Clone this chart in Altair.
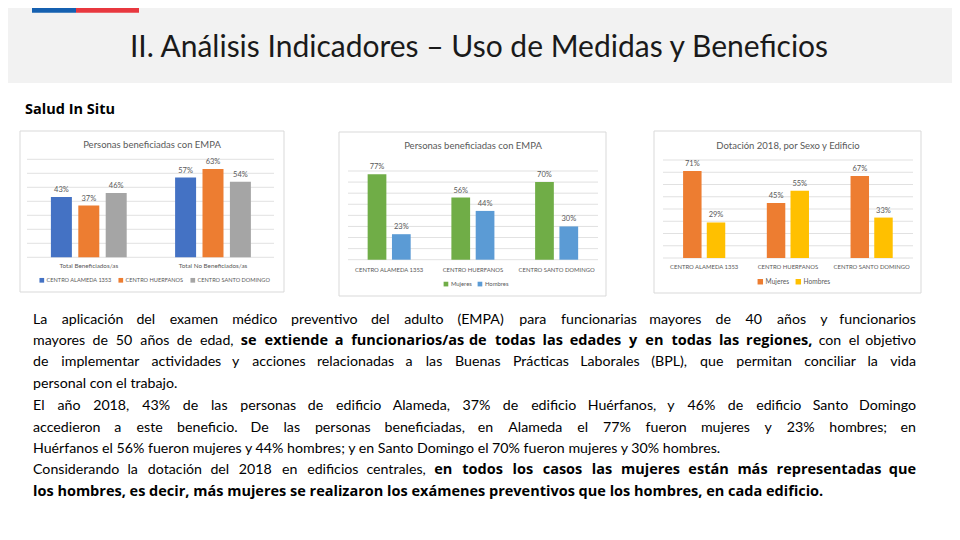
import unicodedata
import altair as alt
import pandas as pd

# ---------------- data ----------------
grupos1 = ["Total Beneficiados/as", "Total No Beneficiados/as"]
centros = ["CENTRO ALAMEDA 1353", "CENTRO HUERFANOS", "CENTRO SANTO DOMINGO"]
alameda1 = [43, 57]
huerfanos1 = [37, 63]
santo1 = [46, 54]

sexos = ["Mujeres", "Hombres"]
empa_mujeres = [77, 56, 70]
empa_hombres = [23, 44, 30]
dot_mujeres = [71, 45, 67]
dot_hombres = [29, 55, 33]

ticks70 = [0, 10, 20, 30, 40, 50, 60, 70]
ticks80 = [0, 10, 20, 30, 40, 50, 60, 70, 80]

titulo = "II. Análisis Indicadores – Uso de Medidas y Beneficios"
subtitulo = "Salud In Situ"
t1 = "Personas beneficiadas con EMPA"
t2 = "Personas beneficiadas con EMPA"
t3 = "Dotación 2018, por Sexo y Edificio"

parrafo = [
    (True, [(False, "La aplicación del examen médico preventivo del adulto (EMPA) para funcionarias mayores de 40 años y funcionarios")]),
    (True, [(False, "mayores de 50 años de edad,"),
            (True, "se extiende a funcionarios/as de todas las edades y en todas las regiones,"),
            (False, "con el objetivo")]),
    (True, [(False, "de implementar actividades y acciones relacionadas a las Buenas Prácticas Laborales (BPL), que permitan conciliar la vida")]),
    (False, [(False, "personal con el trabajo.")]),
    (True, [(False, "El año 2018, 43% de las personas de edificio Alameda, 37% de edificio Huérfanos, y 46% de edificio Santo Domingo")]),
    (True, [(False, "accedieron a este beneficio. De las personas beneficiadas, en Alameda el 77% fueron mujeres y 23% hombres; en")]),
    (False, [(False, "Huérfanos el 56% fueron mujeres y 44% hombres; y en Santo Domingo el 70% fueron mujeres y 30% hombres.")]),
    (True, [(False, "Considerando la dotación del 2018 en edificios centrales,"),
            (True, "en todos los casos las mujeres están más representadas que")]),
    (False, [(True, "los hombres, es decir, más mujeres se realizaron los exámenes preventivos que los hombres, en cada edificio.")]),
]

# ---------------- layout helpers ----------------
FONT = "Lato"
BFONT = "Open Sans"
W, H = 944, 524
OX, OY = 8, 8


def X(v):
    return v - OX


def Y(v):
    return v - OY


def rect(x0, x1, y0, y1, fill, stroke=None):
    kw = dict(color=fill)
    if stroke:
        kw = dict(fill=fill, stroke=stroke, strokeWidth=1)
    return alt.Chart(pd.DataFrame({"a": [0]})).mark_rect(**kw).encode(
        x=alt.value(X(x0)), x2=alt.value(X(x1)), y=alt.value(Y(y0)), y2=alt.value(Y(y1))
    )


def label(txt, x, y, size, color="#000000", bold=False, align="left", baseline="alphabetic", font=FONT):
    return alt.Chart(pd.DataFrame({"t": [txt]})).mark_text(
        font=font, fontSize=size, color=color, fontWeight="bold" if bold else "normal",
        align=align, baseline=baseline
    ).encode(x=alt.value(X(x)), y=alt.value(Y(y)), text="t:N")


def panel(df, cats, series, colors, xr, yr, ydom, ticks, gx, pi, po,
          caty, catsize, legx, legy, legsize, symsize, colpad):
    xs = alt.Scale(domain=cats, range=[X(xr[0]), X(xr[1])], paddingInner=0, paddingOuter=0)
    ys = alt.Scale(domain=ydom, range=[Y(yr[0]), Y(yr[1])], nice=False, zero=True)
    os_ = alt.Scale(domain=series, paddingInner=pi, paddingOuter=po)
    cs = alt.Scale(domain=series, range=colors)
    grid = alt.Chart(pd.DataFrame({"t": ticks})).mark_rule(color="#d9d9d9", strokeWidth=0.8).encode(
        y=alt.Y("t:Q", scale=ys, axis=None),
        x=alt.value(X(gx[0])), x2=alt.value(X(gx[1])),
    )
    base = alt.Chart(df).encode(
        x=alt.X("cat:N", scale=xs, axis=None, sort=cats),
        xOffset=alt.XOffset("ser:N", scale=os_, sort=series),
    )
    bars = base.mark_bar().encode(
        y=alt.Y("v:Q", scale=ys, axis=None),
        color=alt.Color("ser:N", scale=cs, sort=series, legend=alt.Legend(
            orient="none", legendX=X(legx), legendY=Y(legy) - legsize / 2,
            direction="horizontal", columns=len(series), title=None,
            symbolType="square", symbolSize=symsize, symbolStrokeWidth=0,
            labelFont=FONT, labelFontSize=legsize, labelColor="#595959",
            columnPadding=colpad, labelOffset=2, padding=0)),
    )
    vals = base.mark_text(font=FONT, fontSize=7.5, color="#595959", baseline="bottom", dy=-3).encode(
        y=alt.Y("v:Q", scale=ys, axis=None), text="lbl:N"
    )
    catlab = alt.Chart(pd.DataFrame({"cat": cats})).mark_text(
        font=FONT, fontSize=catsize, color="#595959", baseline="middle"
    ).encode(x=alt.X("cat:N", scale=xs, axis=None, sort=cats), y=alt.value(Y(caty)), text="cat:N")
    return alt.layer(grid, bars, vals, catlab)


def long_df(cats, series, cols):
    rows = []
    for si, s in enumerate(series):
        for ci, c in enumerate(cats):
            v = cols[si][ci]
            rows.append({"cat": c, "ser": s, "v": v, "lbl": f"{v}%"})
    return pd.DataFrame(rows)


df1 = long_df(grupos1, centros, [alameda1, huerfanos1, santo1])
df2 = long_df(centros, sexos, [empa_mujeres, empa_hombres])
df3 = long_df(centros, sexos, [dot_mujeres, dot_hombres])

p1 = panel(df1, grupos1, centros, ["#4472c4", "#ed7d31", "#a5a5a5"],
           [26.7, 275.1], [257.3, 159.3], [0, 70], ticks70, [27, 274], 0.234, 0.883,
           266, 6.3, 39, 280, 5.6, 22, 6)
p2 = panel(df2, centros, sexos, ["#70ad47", "#5b9bd5"],
           [347.3, 598.5], [259.7, 171.0], [0, 80], ticks80, [348, 598], 0.23, 0.837,
           270, 5.9, 443, 284, 5.9, 22, 5)
p3 = panel(df3, centros, sexos, ["#ed7d31", "#ffc000"],
           [662.3, 913.5], [258.0, 160.0], [0, 80], ticks80, [663, 913], 0.22, 0.877,
           266.7, 5.9, 757, 281.7, 6.6, 30, 5)

# ---------------- paragraph (word-level justification) ----------------
CW = dict(zip("abcdefghijklmnopqrstuvwxyz",
              [.49, .55, .45, .55, .51, .31, .49, .55, .23, .23, .49, .23, .82,
               .55, .54, .55, .55, .36, .41, .34, .55, .49, .75, .47, .49, .44]))
CW.update(dict(zip("ABCDEFGHIJKLMNOPQRSTUVWXYZ",
                   [.68, .63, .66, .73, .56, .54, .71, .74, .28, .39, .65, .48, .88,
                    .74, .78, .59, .78, .61, .52, .57, .71, .68, 1.0, .65, .62, .61])))
CW.update({d: .58 for d in "0123456789"})
CW.update({" ": .19, ",": .21, ".": .21, ";": .23, ":": .23, "%": .75,
           "(": .30, ")": .30, "/": .38, "-": .34})
PFS = 14.2
BFS = 14.5


def tw(s, bold):
    w = 0.0
    for ch in s:
        base = unicodedata.normalize("NFD", ch)[0]
        w += CW.get(base, .5)
    return w * PFS * (1.19 if bold else 1.0)


PX0, PX1 = 33, 916
line_y = [320, 341, 362, 384, 406, 428, 449, 470, 492]
rows = []
for (just, runs), ly in zip(parrafo, line_y):
    if not just:
        x = PX0
        for bold, txt in runs:
            rows.append({"x": X(x), "y": Y(ly), "t": txt, "b": "bold" if bold else "normal", "al": "left"})
            x += tw(txt + " ", bold)
        continue
    words = []
    for bold, txt in runs:
        for w in txt.split(" "):
            words.append((w, bold))
    widths = [tw(w, b) for w, b in words]
    gap = (PX1 - PX0 - sum(widths)) / (len(words) - 1)
    x = PX0
    for i, ((w, b), wd) in enumerate(zip(words, widths)):
        last = i == len(words) - 1
        rows.append({"x": X(PX1) if last else X(x), "y": Y(ly), "t": w,
                     "b": "bold" if b else "normal", "al": "right" if last else "left"})
        x += wd + gap
pdf = pd.DataFrame(rows)
para_layers = []
for b in ["normal", "bold"]:
    for al in ["left", "right"]:
        sub = pdf[(pdf.b == b) & (pdf.al == al)]
        if len(sub):
            para_layers.append(alt.Chart(sub).mark_text(
                font=BFONT if b == "bold" else FONT, fontSize=BFS if b == "bold" else PFS,
                fontWeight=b, align=al, baseline="middle", color="#000000"
            ).encode(x=alt.X("x:Q", scale=None, axis=None), y=alt.Y("y:Q", scale=None, axis=None), text="t:N"))

# ---------------- decorations ----------------
deco = [
    rect(0, 960, 0, 83, "#f2f2f2"),
    rect(32, 76, 0, 12.7, "#1560b0"),
    rect(76, 139, 0, 12.7, "#e8383f"),
    label(titulo, 479, 57, 30, "#1a1a1a", align="center"),
    label(subtitulo, 25, 114, 14.5, "#000000", bold=True, font=BFONT),
    rect(20, 284, 131, 292, "#ffffff", "#d9d9d9"),
    rect(339, 606, 132, 296, "#ffffff", "#d9d9d9"),
    rect(654, 921, 131, 293, "#ffffff", "#d9d9d9"),
    label(t1, 152, 145, 9.5, "#595959", align="center", baseline="middle"),
    label(t2, 473, 146, 9.5, "#595959", align="center", baseline="middle"),
    label(t3, 788, 145.7, 9.5, "#595959", align="center", baseline="middle"),
]

chart = alt.layer(*deco, p1, p2, p3, *para_layers).resolve_scale(
    x="independent", y="independent", xOffset="independent", color="independent"
).properties(
    width=W, height=H, padding=0, autosize="none"
).configure_view(stroke=None)

chart.save("out.html", embed_options={"renderer": "svg", "actions": False})
